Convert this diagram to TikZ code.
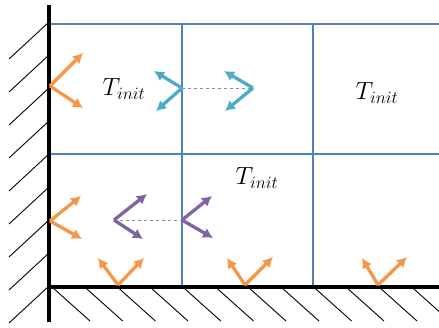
\documentclass[tikz,border=0pt]{standalone}
\usetikzlibrary{arrows.meta}
\definecolor{gridblue}{RGB}{79,129,189}
\definecolor{wallorange}{RGB}{247,150,70}
\definecolor{raycyan}{RGB}{75,172,198}
\definecolor{raypurple}{RGB}{128,100,162}

\begin{document}
\begin{tikzpicture}[x=1pt, y=-1pt,
    every node/.style={font=\fontsize{25}{30}\selectfont, inner sep=0pt},
    cell/.style={gridblue, line width=2.2pt},
    wall/.style={black, line width=4pt},
    hatch/.style={black, line width=0.9pt},
    ray/.style={-{Latex[length=10pt, width=11pt]}, line width=3.3pt},
    link/.style={raypurple!80, dashed, line width=1pt}]
    \useasboundingbox (0,0) rectangle (439,327);
    \clip (0,0) rectangle (439,327);

    % hatching of the walls
    \foreach \y in {22,55,88,121,154,187,220,253,286}
        \draw[hatch] (49,\y) -- +(-40,37);
    \foreach \x in {52,84.7,117.4,150,182.8,215.5,248,281,313.6,346,379,411.7}
        \draw[hatch] (\x,287) -- +(38,34);

    % cells
    \draw[cell] (49,24) -- (439,24);
    \draw[cell] (49,154) -- (439,154);
    \draw[cell] (182,24) -- (182,287);
    \draw[cell] (313,24) -- (313,287);

    % walls
    \draw[wall] (49,5) -- (49,322);
    \draw[wall] (47,287) -- (439,287);

    \node (T1) at (124,89) {$T_{init}$};
    \node (T2) at (377,93) {$T_{init}$};
    \node (T3) at (257,178) {$T_{init}$};

    % upper row
    \coordinate (A) at (50,86);
    \draw[ray, wallorange] (A) -- (83,53);
    \draw[ray, wallorange] (A) -- (83,108);

    \coordinate (B) at (182,88);
    \coordinate (C) at (253,88);
    \draw[link] (B) -- (C);
    \draw[ray, raycyan] (B) -- (154,71);
    \draw[ray, raycyan] (B) -- (156,111);
    \draw[ray, raycyan] (C) -- (224,71);
    \draw[ray, raycyan] (C) -- (225,111);

    % lower row
    \coordinate (D) at (50,221);
    \draw[ray, wallorange] (D) -- (81,196);
    \draw[ray, wallorange] (D) -- (82,239);

    \coordinate (E) at (114,220);
    \coordinate (F) at (182,220);
    \draw[link] (E) -- (F);
    \draw[ray, raypurple] (E) -- (147,194);
    \draw[ray, raypurple] (E) -- (143,239);
    \draw[ray, raypurple] (F) -- (212,196);
    \draw[ray, raypurple] (F) -- (213,238);

    % bottom wall
    \coordinate (G) at (118,285);
    \draw[ray, wallorange] (G) -- (98,258);
    \draw[ray, wallorange] (G) -- (144,258);
    \coordinate (H) at (245,285);
    \draw[ray, wallorange] (H) -- (227,258);
    \draw[ray, wallorange] (H) -- (273,257);
    \coordinate (I) at (378,285);
    \draw[ray, wallorange] (I) -- (362,258);
    \draw[ray, wallorange] (I) -- (407,257);
\end{tikzpicture}
\end{document}
